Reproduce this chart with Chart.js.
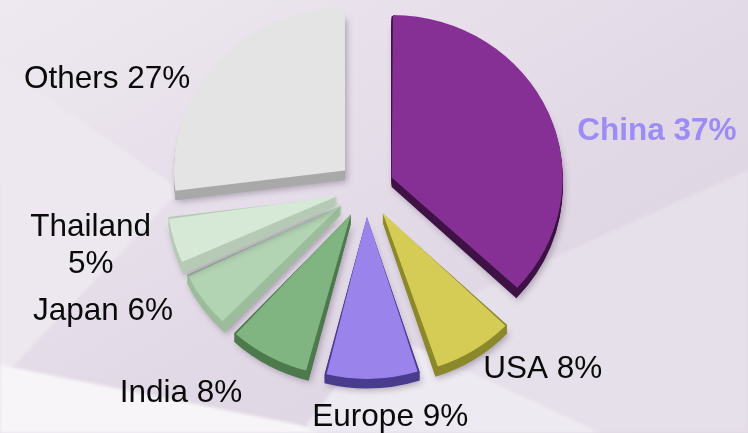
<!DOCTYPE html>
<html>
<head>
<meta charset="utf-8">
<title>Share by country</title>
<script src="https://cdn.jsdelivr.net/npm/chart.js@4.4.1/dist/chart.umd.min.js"></script>
<style>
  html, body { margin: 0; padding: 0; }
  body { width: 748px; height: 433px; overflow: hidden; background: #e6dfe9; }
  #stage { position: relative; width: 748px; height: 433px; }
  #bg { position: absolute; left: 0; top: 0; }
  #chart-box { position: absolute; left: 0; top: 0; width: 748px; height: 433px; }
</style>
</head>
<body>
<div id="stage">
  <svg id="bg" width="748" height="433" viewBox="0 0 748 433">
    <defs>
      <filter id="soft"><feGaussianBlur stdDeviation="1.5"/></filter>
      <linearGradient id="wash" x1="0" y1="0" x2="1" y2="1">
        <stop offset="0" stop-color="#eee9f0"/>
        <stop offset="0.55" stop-color="#e2d9e6"/>
        <stop offset="1" stop-color="#dcd2e0"/>
      </linearGradient>
    </defs>
    <rect width="748" height="433" fill="url(#wash)"/>
    <g filter="url(#soft)">
      <polygon points="0,65 180,190 0,380" fill="#ede8f0"/>
      <polygon points="470,295 748,170 748,433 420,433" fill="#e6e0ea"/>
      <polygon points="380,330 600,433 300,433" fill="#eeeaf1"/>
      <polygon points="0,365 300,425 320,433 0,433" fill="#f7f5f8"/>
    </g>
  </svg>
  <div id="chart-box"><canvas id="chart"></canvas></div>
</div>

<script>
// ─── Data ────────────────────────────────────────────────────────────────────
const CATEGORIES = ['China', 'USA', 'Europe', 'India', 'Japan', 'Thailand', 'Others'];
const SHARES = [37, 8, 9, 8, 6, 5, 27];

// ─── Styling ─────────────────────────────────────────────────────────────────
const FACE_COLORS = ['#863096', '#d4cc55', '#9a84ec', '#80b480', '#b2d4b2', '#d6e8d6', '#e4e4e4'];
const SIDE_COLORS = ['#3e1244', '#8c892c', '#4a3c8e', '#4e7a4e', '#9cbc9c', '#b6cab6', '#a9a9a9'];
const EXPLODE = [28, 31, 30, 31, 30, 29, 28];          // radial pull-out, px
const LABEL_NUDGE = [[1, 27], [-7, -7], [17, 7], [-12, 10], [-6, -8], [6, -6], [-4, 33]];
const WRAPPED = ['Thailand'];
const HIGHLIGHT = 'China';

const RADIUS = 171;
const TILT = 0.95;       // vertical squash of the pie top
const DEPTH = 10;        // thickness of the wedge walls
const LABEL_GAP = 30;
const FONT_SIZE = 31.5;
const FONT_FAMILY = '"Liberation Sans", Arial, sans-serif';

// ArcElement translates by offset / 4, so the option is scaled up here
const arcShift = arc => (arc.options.offset || 0) / 4;

// ─── 3D wedge plugin: walls, tilted top, outside labels ──────────────────────
const pie3d = {
  id: 'pie3d',
  afterDatasetUpdate(chart, args) {
    // offset arcs get radius + shift * fix inside ArcElement; cancel that so every wedge keeps one radius
    const r = args.meta.controller.outerRadius;
    args.meta.data.forEach(arc => {
      const fix = 1 - Math.sin(Math.min(Math.PI, arc.circumference));
      arc.outerRadius = r - arcShift(arc) * fix;
    });
  },
  beforeDatasetDraw(chart, args) {
    const ctx = chart.ctx;
    const meta = args.meta;
    const r = meta.controller.outerRadius;
    const cy = meta.data[0].y;
    ctx.save();
    ctx.translate(0, cy);
    ctx.scale(1, TILT);
    ctx.translate(0, -cy);
    meta.data.forEach((arc, i) => {
      const mid = (arc.startAngle + arc.endAngle) / 2;
      const sh = arcShift(arc);
      const x = arc.x + Math.cos(mid) * sh;
      const y = arc.y + Math.sin(mid) * sh;
      ctx.fillStyle = SIDE_COLORS[i];
      for (let k = DEPTH; k >= 1; k--) {
        if (k === DEPTH) {
          ctx.shadowColor = 'rgba(70, 50, 80, 0.35)';
          ctx.shadowBlur = 6;
          ctx.shadowOffsetX = 2;
          ctx.shadowOffsetY = 2;
        } else {
          ctx.shadowColor = 'transparent';
          ctx.shadowBlur = 0;
        }
        ctx.beginPath();
        ctx.moveTo(x, y + k);
        ctx.arc(x, y + k, r, arc.startAngle, arc.endAngle);
        ctx.closePath();
        ctx.fill();
      }
      ctx.shadowColor = 'transparent';
      ctx.shadowBlur = 0;
      arc.draw(ctx);
    });
    ctx.restore();
    return false;
  },
  afterDraw(chart) {
    const ctx = chart.ctx;
    const meta = chart.getDatasetMeta(0);
    const r = meta.controller.outerRadius;
    const lineHeight = FONT_SIZE * 1.18;
    ctx.save();
    meta.data.forEach((arc, i) => {
      const name = CATEGORIES[i];
      const value = SHARES[i];
      const lines = WRAPPED.includes(name) ? [name, `${value}%`] : [`${name} ${value}%`];
      const bold = name === HIGHLIGHT;
      ctx.font = `${bold ? 'bold ' : ''}${FONT_SIZE}px ${FONT_FAMILY}`;
      ctx.fillStyle = bold ? '#9d8cf6' : '#0a0a0a';

      const mid = (arc.startAngle + arc.endAngle) / 2;
      const dist = arcShift(arc) + r + LABEL_GAP;
      const ax = arc.x + Math.cos(mid) * dist + LABEL_NUDGE[i][0];
      const ay = arc.y + Math.sin(mid) * dist * TILT + LABEL_NUDGE[i][1];

      const blockW = Math.max(...lines.map(t => ctx.measureText(t).width));
      const c = Math.cos(mid);
      let cx = ax;
      if (c > 0.25) cx = ax + blockW / 2;
      else if (c < -0.25) cx = ax - blockW / 2;

      ctx.textAlign = 'center';
      ctx.textBaseline = 'alphabetic';
      lines.forEach((t, j) => {
        const midY = ay - (lines.length - 1) * lineHeight / 2 + j * lineHeight;
        ctx.fillText(t, cx, midY + FONT_SIZE * 0.36);
      });
    });
    ctx.restore();
  }
};

// ─── Chart ───────────────────────────────────────────────────────────────────
new Chart(document.getElementById('chart'), {
  type: 'pie',
  data: {
    labels: CATEGORIES,
    datasets: [{
      data: SHARES,
      backgroundColor: FACE_COLORS,
      borderWidth: 0,
      offset: EXPLODE.map(o => o * 4),
    }],
  },
  options: {
    responsive: true,
    maintainAspectRatio: false,
    animation: false,
    radius: RADIUS,
    layout: { padding: { left: 0, right: 16, top: 0, bottom: 57 } },
    plugins: {
      legend: { display: false },
      tooltip: { enabled: false },
    },
    events: [],
  },
  plugins: [pie3d],
});
</script>
</body>
</html>
